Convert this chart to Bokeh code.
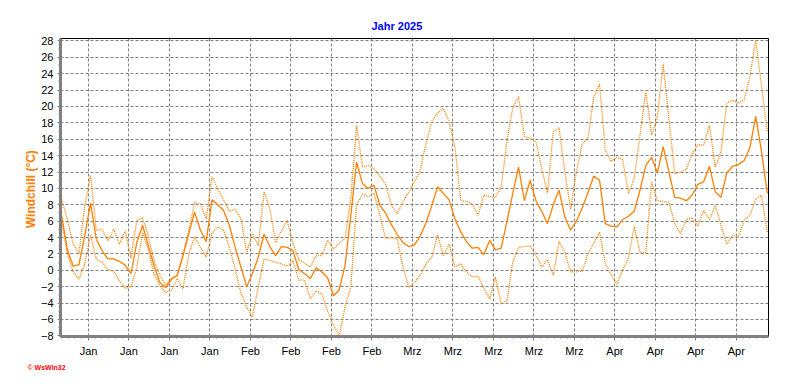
from bokeh.plotting import figure
from bokeh.models import FixedTicker, Range1d, Title
from bokeh.embed import file_html
from bokeh.resources import INLINE

# ---- data (days since 1 Jan 2025) ----
day = list(range(123))
windchill_mean = [
    6.7, 2.5, 0.5, 0.7, 4.2, 8.2, 3.8, 2.4, 1.4, 1.4,
    1.1, 0.6, -0.4, 3.4, 5.5, 3.0, 0.5, -1.5, -2.1, -1.1,
    -0.6, 1.8, 4.5, 7.1, 4.9, 3.5, 8.6, 8.0, 7.3, 5.5,
    2.8, 0.4, -2.0, -0.4, 1.6, 4.4, 2.9, 1.8, 2.9, 2.8,
    2.4, 0.1, -0.4, -1.0, 0.3, -0.2, -0.9, -3.1, -2.4, 0.6,
    6.7, 13.2, 10.6, 10.0, 10.4, 8.0, 7.0, 5.6, 4.4, 3.4,
    2.9, 3.1, 4.2, 5.8, 7.9, 10.2, 9.4, 8.6, 6.3, 4.7,
    3.5, 2.7, 2.8, 1.9, 3.65, 2.5, 2.7, 6.0, 9.4, 12.6,
    8.5, 11.0, 8.5, 7.2, 5.7, 8.0, 9.8, 6.5, 4.9, 6.0,
    7.6, 9.5, 11.5, 11.0, 5.7, 5.4, 5.3, 6.2, 6.6, 7.2,
    9.8, 12.8, 13.8, 11.9, 15.1, 12.0, 8.9, 8.8, 8.5, 9.2,
    10.5, 10.8, 12.7, 9.6, 8.9, 11.9, 12.7, 12.9, 13.4, 15.0,
    18.8, 14.5, 9.4,
]
windchill_max = [
    8.7, 6.2, 3.2, 2.0, 7.8, 11.6, 4.9, 5.0, 3.6, 5.0,
    3.2, 4.8, 1.5, 6.1, 6.4, 4.2, 1.1, -0.6, -1.8, -1.0,
    -0.6, 2.0, 4.9, 8.3, 8.1, 6.3, 11.4, 9.9, 8.6, 7.2,
    7.4, 6.3, 2.2, 4.5, 3.0, 9.6, 7.5, 3.4, 4.8, 6.1,
    3.3, 1.3, 0.9, 0.4, 1.8, 1.8, 3.65, 2.6, 3.3, 3.9,
    8.9, 17.7, 12.6, 12.8, 12.4, 11.5, 10.6, 8.0, 6.9, 8.3,
    9.5, 10.8, 12.2, 15.5, 18.2, 19.2, 19.75, 18.2, 15.0, 8.5,
    8.4, 8.1, 6.7, 9.2, 9.0, 8.9, 10.2, 15.9, 19.8, 21.2,
    16.3, 16.1, 15.7, 12.5, 9.4, 16.9, 17.4, 12.0, 7.5, 12.0,
    15.5, 16.1, 21.2, 22.7, 14.65, 13.3, 13.8, 13.5, 9.4, 11.2,
    16.5, 21.8, 16.5, 18.7, 25.2, 18.5, 11.8, 12.0, 12.3, 14.2,
    15.3, 15.3, 17.7, 12.6, 14.5, 20.4, 20.8, 20.4, 20.8, 23.7,
    28.1, 22.5, 16.9,
]
windchill_min = [
    6.1, 2.0, -0.2, -1.1, 0.8, 4.3, 1.3, 1.0, 0.1, -0.1,
    -1.3, -2.2, -2.0, 0.3, 4.6, 2.5, -0.5, -1.9, -2.7, -2.4,
    -1.0, -2.25, 2.0, 4.1, 2.8, 1.6, 4.5, 5.3, 4.9, 2.8,
    0.2, -2.8, -4.5, -5.7, -2.0, 1.4, 1.2, 1.0, 0.8, 0.5,
    1.2, -1.2, -1.2, -3.5, -2.5, -2.9, -5.0, -6.7, -8.0, -4.5,
    -2.0, 8.0, 9.3, 9.0, 9.4, 6.8, 3.9, 4.0, 3.8, 0.5,
    -2.1, -1.5, -0.6, 0.8, 1.6, 4.3, 1.8, 3.2, 0.4, 0.8,
    -0.2, -0.8, -0.75, -2.2, -3.5, -0.8, -4.1, -3.7, 1.0, 2.8,
    2.9, 3.0, 1.9, 0.4, 1.3, -0.6, 3.5, 2.2, -0.2, -0.2,
    -0.1, 2.0, 3.3, 4.65, 0.8, -0.5, -1.7, 0.0, 1.5, 5.3,
    2.2, 2.2, 10.8, 8.5, 8.4, 8.3, 5.7, 4.5, 6.2, 6.4,
    5.4, 7.3, 6.2, 7.9, 5.5, 3.2, 4.3, 4.1, 6.1, 6.7,
    8.7, 9.15, 4.65,
]
week_ticks = [5 + 7 * k for k in range(17)]          # Mondays
week_labels = ["Jan"] * 4 + ["Feb"] * 4 + ["Mrz"] * 5 + ["Apr"] * 4
y_ticks = list(range(-8, 29, 2))
y_minor = list(range(-7, 28, 2))

SAMPLE_OFFSET = 0.35   # time of day of the daily sample
xs = [d + SAMPLE_OFFSET for d in day]
x_minor = [week_ticks[0] + k * 7.0 / 6.0 for k in range(-4, 6 * 16 + 5)]

ORANGE = "#FF8000"
GRAY = "#808080"
FONT = "Liberation Sans"

p = figure(width=792, height=387,
           x_range=Range1d(0.16, 122.56), y_range=Range1d(-8.08, 28.3),
           output_backend="svg", toolbar_location=None,
           min_border_left=60, min_border_right=24,
           min_border_top=38, min_border_bottom=51,
           background_fill_color="white", border_fill_color="white")

p.outline_line_color = "black"
p.outline_line_width = 1

p.title.text = "Jahr 2025"
p.title.align = "left"
p.title.offset = 311
p.title.text_color = "#0000FF"
p.title.text_font = FONT
p.title.text_font_size = "11px"
p.title.text_font_style = "bold"
p.title.standoff = 14

# axes
p.xaxis.ticker = FixedTicker(ticks=week_ticks, minor_ticks=x_minor)
p.xaxis.major_label_overrides = {t: lab for t, lab in zip(week_ticks, week_labels)}
p.yaxis.ticker = FixedTicker(ticks=y_ticks, minor_ticks=y_minor)

for ax in (p.xaxis, p.yaxis):
    ax.axis_line_color = GRAY
    ax.axis_line_width = 3
    ax.major_tick_line_color = GRAY
    ax.minor_tick_line_color = GRAY
    ax.major_tick_in = 0
    ax.minor_tick_in = 0
    ax.major_tick_out = 4
    ax.minor_tick_out = 2
    ax.major_label_text_font = FONT
    ax.major_label_text_font_size = "11px"
    ax.major_label_text_color = "black"
    ax.major_label_standoff = 4

p.yaxis.major_tick_out = 3
p.yaxis.axis_label = "Windchill  (°C)"
p.yaxis.axis_label_text_color = ORANGE
p.yaxis.axis_label_text_font = FONT
p.yaxis.axis_label_text_font_size = "12px"
p.yaxis.axis_label_text_font_style = "bold"
p.yaxis.axis_label_standoff = 0

# grid
p.grid.grid_line_color = GRAY
p.grid.grid_line_dash = "3 2"
p.grid.grid_line_width = 1

# series
p.line(xs, windchill_max, line_color=ORANGE, line_width=1.3, line_dash="1 1")
p.line(xs, windchill_min, line_color=ORANGE, line_width=1.3, line_dash="1 1")
p.line(xs, windchill_mean, line_color=ORANGE, line_width=1.3)

p.add_layout(Title(text="© WsWin32", align="left", offset=-33, standoff=5,
                   text_color="red", text_font=FONT, text_font_size="7px",
                   text_font_style="bold"), "below")

open("out.html", "w").write(file_html(p, INLINE))
